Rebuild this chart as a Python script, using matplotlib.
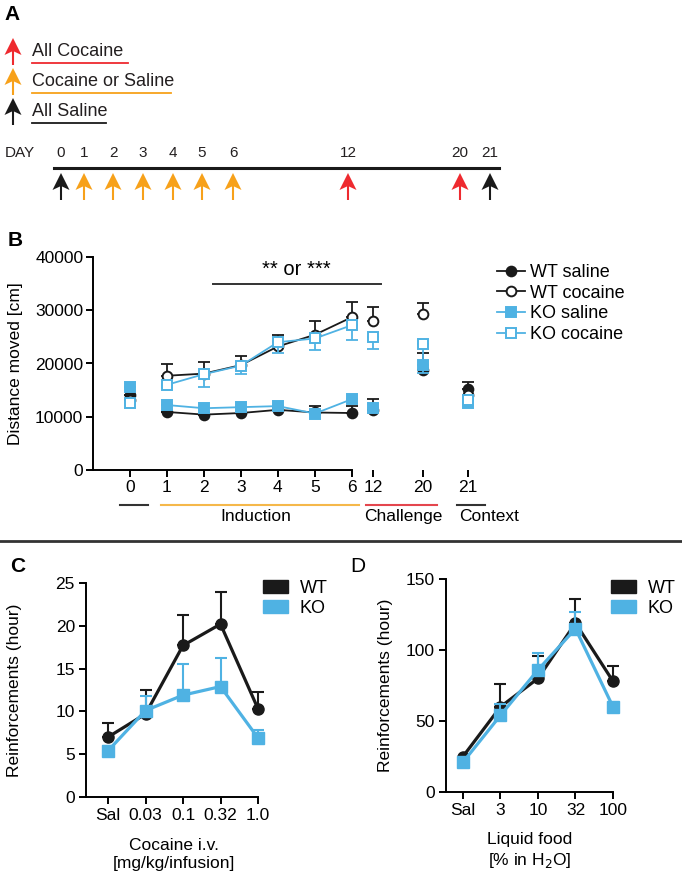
import numpy as np
import matplotlib.pyplot as plt
from matplotlib.patches import Polygon, Patch
from matplotlib.lines import Line2D

plt.rcParams['font.family'] = ['Liberation Sans', 'DejaVu Sans']

BLUE = '#4FB2E3'
BLACK = '#1a1a1a'
RED = '#EE2A2F'
ORANGE = '#F7A11A'

# ---------- panel A: injection schedule ----------
legend_labels_a = ['All Cocaine', 'Cocaine or Saline', 'All Saline']
legend_colors_a = [RED, ORANGE, BLACK]
timeline_days = ['0', '1', '2', '3', '4', '5', '6', '12', '20', '21']
timeline_colors = [BLACK, ORANGE, ORANGE, ORANGE, ORANGE, ORANGE, ORANGE, RED, RED, BLACK]

# ---------- panel B: locomotion ----------
days_b = ['0', '1', '2', '3', '4', '5', '6', '12', '20', '21']
wt_saline = [14100, 10900, 10400, 10700, 11300, 10800, 10700, 11300, 18800, 15200]
wt_saline_err = [0, 0, 0, 0, 300, 1200, 1300, 2000, 3200, 1400]
wt_cocaine = [13100, 17700, 18100, 19700, 23200, 25400, 28700, 28000, 29300, 14100]
wt_cocaine_err = [0, 2200, 2100, 1700, 2200, 2600, 2800, 2600, 2100, 0]
ko_saline = [15600, 12200, 11600, 11800, 12000, 10600, 13300, 11600, 19700, 12600]
ko_saline_err = [0, 0, 0, 0, 0, 0, 0, 0, 0, 0]
ko_cocaine = [12600, 16000, 18000, 19600, 24000, 24700, 27200, 25000, 23700, 13200]
ko_cocaine_err = [0, 500, 2400, 1500, 2000, 2200, 2800, 2300, 5500, 0]
groups_b = ['', 'Induction', 'Challenge', 'Context']
group_colors_b = ['#333333', '#F5B84A', '#E4464E', '#333333']

# ---------- panel C: cocaine self-administration ----------
doses_c = ['Sal', '0.03', '0.1', '0.32', '1.0']
wt_c = [7.0, 9.7, 17.7, 20.2, 10.3]
wt_c_err = [1.6, 2.8, 3.6, 3.7, 2.0]
ko_c = [5.4, 10.1, 11.9, 12.9, 6.9]
ko_c_err = [0.6, 1.7, 3.6, 3.3, 0.9]

# ---------- panel D: liquid food ----------
conc_d = ['Sal', '3', '10', '32', '100']
wt_d = [25, 60, 80, 119, 78]
wt_d_err = [0, 16, 16, 17, 11]
ko_d = [21, 54, 86, 115, 60]
ko_d_err = [0, 8, 12, 12, 2]

fig = plt.figure(figsize=(6.82, 8.8), dpi=100)

# overlay in pixel coordinates for the schematic and decorations
ov = fig.add_axes([0, 0, 1, 1])
ov.set_xlim(0, 682)
ov.set_ylim(880, 0)
ov.axis('off')


def arrow(ax, x, ytip, color, size=1.0):
    hw = 8.5 * size
    pts = [(x, ytip), (x + hw, ytip + 17 * size), (x, ytip + 13 * size),
           (x - hw, ytip + 17 * size)]
    ax.add_patch(Polygon(pts, closed=True, color=color, lw=0))
    ax.plot([x, x], [ytip + 10 * size, ytip + 27 * size], color=color, lw=1.5,
            solid_capstyle='butt')


ax_text = dict(color='#231F20')
ov.text(4, 15, 'A', fontsize=15, fontweight='bold', va='center')
leg_y = [52, 82, 112]
leg_end = [128, 171, 106]
for lab, col, y, x1 in zip(legend_labels_a, legend_colors_a, leg_y, leg_end):
    arrow(ov, 13, y - 14, col, 1.0)
    ov.text(32, y, lab, fontsize=13, va='center', **ax_text)
    ov.plot([32, x1], [y + 11, y + 11], color=col, lw=1.3)

day_x = [61, 84, 113, 143, 173, 202, 233, 348, 460, 490]
ov.text(5, 153, 'DAY', fontsize=11, va='center', **ax_text)
for d, x, c in zip(timeline_days, day_x, timeline_colors):
    ov.text(x, 153, d, fontsize=11, va='center', ha='center', **ax_text)
    arrow(ov, x, 173, c, 1.0)
ov.plot([54, 499], [168, 168], color=BLACK, lw=2.2)

ov.text(8, 241, 'B', fontsize=15, fontweight='bold', va='center')
ov.plot([0, 682], [541, 541], color='#333333', lw=2)
ov.text(10, 566, 'C', fontsize=15, fontweight='bold', va='center')
ov.text(350, 566, 'D', fontsize=15, va='center')

# ---------- panel B ----------
xpos_b = [0, 1, 2, 3, 4, 5, 6, 6.57, 7.92, 9.14]
axb = fig.add_axes([93 / 682, 1 - 470 / 880, 392 / 682, 213 / 880])
series_b = [
    (wt_saline, wt_saline_err, BLACK, 'o', BLACK, 'up', 'WT saline'),
    (wt_cocaine, wt_cocaine_err, BLACK, 'o', 'white', 'up', 'WT cocaine'),
    (ko_saline, ko_saline_err, BLUE, 's', BLUE, 'up', 'KO saline'),
    (ko_cocaine, ko_cocaine_err, BLUE, 's', 'white', 'down', 'KO cocaine'),
]
handles = []
for i, (vals, err, col, mk, mfc, side, lab) in enumerate(series_b):
    err = np.array(err)
    z = np.zeros_like(err)
    yerr = [z, err] if side == 'up' else [err, z]
    axb.errorbar(xpos_b, vals, yerr=yerr, fmt='none', ecolor=col, elinewidth=1.3,
                 capsize=4, capthick=1.3, zorder=2 + i)
    axb.plot(xpos_b[1:7], vals[1:7], color=col, lw=1.3, zorder=2 + i)
    axb.plot(xpos_b, vals, ls='none', marker=mk, mfc=mfc, mec=col, ms=7, mew=1.4,
             zorder=3 + i)
    handles.append(Line2D([], [], color=col, marker=mk, mfc=mfc, mec=col, ms=7,
                          mew=1.4, lw=1.3, label=lab))

axb.set_xlim(-1, 9.6)
axb.set_ylim(0, 40000)
axb.set_yticks([0, 10000, 20000, 30000, 40000])
axb.set_xticks(xpos_b)
axb.set_xticklabels(days_b)
axb.spines['top'].set_visible(False)
axb.spines['right'].set_visible(False)
axb.spines['bottom'].set_bounds(-1, 6)
for s in ['left', 'bottom']:
    axb.spines[s].set_linewidth(1.4)
axb.tick_params(labelsize=12.5, width=1.4, length=5, pad=2)
axb.set_ylabel('Distance moved [cm]', fontsize=12.5)
axb.yaxis.set_label_coords(-0.178, 0.5)

axb.plot([2.25, 6.8], [35000, 35000], color='#333333', lw=1.4, clip_on=False)
axb.text(4.5, 35900, '** or ***', fontsize=14.5, ha='center', va='bottom')

group_spans = [(-0.27, 0.49), (0.84, 6.2), (6.38, 8.3), (8.84, 9.6)]
group_text_x = [0.1, 3.4, 7.4, 9.7]
for lab, col, (a, b), tx in zip(groups_b, group_colors_b, group_spans, group_text_x):
    axb.plot([a, b], [-6600, -6600], color=col, lw=1.5, clip_on=False)
    if lab:
        axb.text(tx, -7400, lab, fontsize=12.5, ha='center', va='top')

axb.legend(handles=handles, loc='upper left', bbox_to_anchor=(497 / 682, 1 - 264 / 880),
           bbox_transform=fig.transFigure, frameon=False, fontsize=13,
           handlelength=1.55, labelspacing=0.2, handletextpad=0.3, borderpad=0,
           borderaxespad=0)


# ---------- panels C and D ----------
def dose_panel(rect, xlo, labels, wt, wt_err, ko, ko_err, ymax, yticks, xlabel, leg_xy):
    ax = fig.add_axes(rect)
    x = np.arange(len(labels))
    for vals, err, col, mk, z in [(wt, wt_err, BLACK, 'o', 3), (ko, ko_err, BLUE, 's', 4)]:
        err = np.array(err)
        ax.errorbar(x, vals, yerr=[np.zeros_like(err), err], fmt='none', ecolor=col,
                    elinewidth=1.5, capsize=4.5, capthick=1.5, zorder=z)
        ax.plot(x, vals, color=col, lw=2.3, marker=mk, ms=8, zorder=z)
    ax.set_xlim(xlo, 4.5)
    ax.set_ylim(0, ymax)
    ax.set_yticks(yticks)
    ax.set_xticks(x)
    ax.set_xticklabels(labels)
    ax.spines['top'].set_visible(False)
    ax.spines['right'].set_visible(False)
    ax.spines['bottom'].set_bounds(xlo, 4)
    for s in ['left', 'bottom']:
        ax.spines[s].set_linewidth(1.4)
    ax.tick_params(labelsize=12.5, width=1.4, length=5, pad=3)
    ax.set_ylabel('Reinforcements (hour)', fontsize=12.5)
    ax.set_xlabel(xlabel, fontsize=12.5, linespacing=1.25)
    ax.xaxis.set_label_coords(0.5, -0.19)
    ax.xaxis.label.set_va('top')
    ax.legend(handles=[Patch(color=BLACK, label='WT'), Patch(color=BLUE, label='KO')],
              loc='upper left', bbox_to_anchor=leg_xy, bbox_transform=fig.transFigure,
              frameon=False, fontsize=13, handlelength=1.38, handleheight=0.7,
              labelspacing=0.15, handletextpad=0.66, borderpad=0, borderaxespad=0)
    return ax


# C: 37.5 px per category, Sal at x=108 px, y axis at x=86 px
axc = dose_panel([86 / 682, 1 - 797 / 880, 5.087 * 37.5 / 682, 214 / 880], -0.587,
                 doses_c, wt_c, wt_c_err, ko_c, ko_c_err, 25, [0, 5, 10, 15, 20, 25],
                 'Cocaine i.v.\n[mg/kg/infusion]', (263 / 682, 1 - 580 / 880))
axc.yaxis.set_label_coords(-0.37 * 172 / (5.087 * 37.5), 0.5)
axc.xaxis.set_label_coords(88 / (5.087 * 37.5), -0.19)

# D: Sal at x=463 px, y axis at x=446 px
axd = dose_panel([446 / 682, 1 - 792 / 880, 4.953 * 37.5 / 682, 213 / 880], -0.453,
                 conc_d, wt_d, wt_d_err, ko_d, ko_d_err, 150, [0, 50, 100, 150],
                 'Liquid food\n[% in H$_2$O]', (611 / 682, 1 - 580 / 880))
axd.yaxis.set_label_coords(-0.32 * 167 / (4.953 * 37.5), 0.5)
axd.xaxis.set_label_coords(84 / (4.953 * 37.5), -0.19)

fig.savefig('out.png', dpi=100)
